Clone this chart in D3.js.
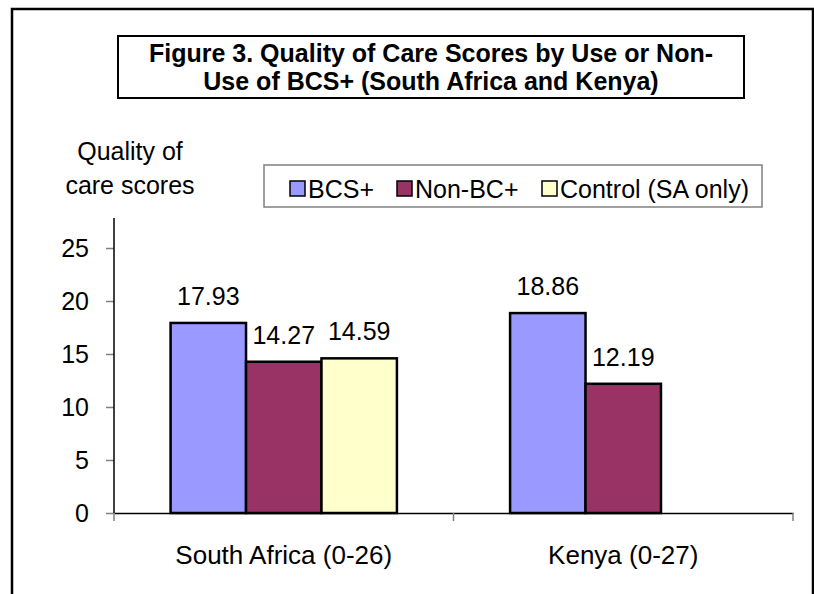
<!DOCTYPE html>
<html>
<head>
<meta charset="utf-8">
<script src="https://cdn.jsdelivr.net/npm/d3@7"></script>
<style>
  body { margin: 0; background: #fff; }
  svg { display: block; font-family: "Liberation Sans", Arial, sans-serif; }
</style>
</head>
<body>
<svg id="chart" width="814" height="594"></svg>
<script>
const categories = ["South Africa (0-26)", "Kenya (0-27)"];
const seriesNames = ["BCS+", "Non-BC+", "Control (SA only)"];
const seriesColors = ["#9999FF", "#993366", "#FFFFCC"];
// values per category, in series order (null = no bar)
const saValues = [17.93, 14.27, 14.59];
const kenyaValues = [18.86, 12.19, null];
const yTicks = [0, 5, 10, 15, 20, 25];

const svg = d3.select("#chart");

// outer frame
svg.append("rect").attr("x", 12).attr("y", 9).attr("width", 801).attr("height", 620)
    .attr("fill", "none").attr("stroke", "#000").attr("stroke-width", 2.5);

// title box
const title = svg.append("g");
title.append("rect").attr("x", 118).attr("y", 36).attr("width", 626).attr("height", 62)
    .attr("fill", "#fff").attr("stroke", "#000").attr("stroke-width", 2);
title.append("text").attr("x", 431).attr("y", 62).attr("text-anchor", "middle")
    .attr("font-size", 25).attr("font-weight", "bold").text("Figure 3. Quality of Care Scores by Use or Non-");
title.append("text").attr("x", 431).attr("y", 90).attr("text-anchor", "middle")
    .attr("font-size", 25).attr("font-weight", "bold").text("Use of BCS+ (South Africa and Kenya)");

// axis title
svg.append("text").attr("x", 130).attr("y", 160).attr("text-anchor", "middle").attr("font-size", 25).text("Quality of");
svg.append("text").attr("x", 130).attr("y", 194).attr("text-anchor", "middle").attr("font-size", 25).text("care scores");

// scales (Excel default gap width 150%)
const x0 = d3.scaleBand().domain(categories).range([114, 793]).paddingInner(0).paddingOuter(0);
const x1 = d3.scaleBand().domain(seriesNames).range([0, x0.bandwidth()]).paddingOuter(0.75).paddingInner(0);
const y = d3.scaleLinear().domain([0, 25]).range([513, 248]);

// y axis
const yAxis = svg.append("g").attr("transform", "translate(114,0)")
    .call(d3.axisLeft(y).tickValues(yTicks).tickSize(8).tickPadding(17));
yAxis.select(".domain").remove();
yAxis.selectAll(".tick line").attr("stroke", "#808080").attr("stroke-width", 1.5);
yAxis.selectAll(".tick text").attr("font-size", 25).attr("fill", "#000")
    .attr("font-family", "'Liberation Sans', Arial, sans-serif");
svg.append("line").attr("x1", 114).attr("x2", 114).attr("y1", 218).attr("y2", 513)
    .attr("stroke", "#000").attr("stroke-width", 1.5);

// x axis
const xAxis = svg.append("g").attr("transform", "translate(0,513)")
    .call(d3.axisBottom(x0).tickValues([]).tickSizeOuter(0));
xAxis.select(".domain").attr("stroke", "#000").attr("stroke-width", 1.5);
const xTickPos = [x0.range()[0], ...categories.map(c => x0(c) + x0.bandwidth())];
svg.selectAll(".xtick").data(xTickPos).join("line")
    .attr("x1", d => d).attr("x2", d => d).attr("y1", 513).attr("y2", 521)
    .attr("stroke", "#808080").attr("stroke-width", 1.5);
svg.selectAll(".xlabel").data(categories).join("text")
    .attr("x", d => x0(d) + x0.bandwidth() / 2).attr("y", 564)
    .attr("text-anchor", "middle").attr("font-size", 26).text(d => d);

// bars
const rows = [saValues, kenyaValues];
categories.forEach((cat, ci) => {
    const g = svg.append("g").attr("transform", `translate(${x0(cat)},0)`);
    const data = rows[ci].map((v, i) => ({ name: seriesNames[i], value: v, color: seriesColors[i] }))
        .filter(d => d.value !== null);
    g.selectAll("rect").data(data).join("rect")
        .attr("x", d => x1(d.name)).attr("y", d => y(d.value))
        .attr("width", x1.bandwidth()).attr("height", d => y(0) - y(d.value))
        .attr("fill", d => d.color).attr("stroke", "#000").attr("stroke-width", 2.5);
    g.selectAll("text").data(data).join("text")
        .attr("x", d => x1(d.name) + x1.bandwidth() / 2).attr("y", d => y(d.value) - 18)
        .attr("text-anchor", "middle").attr("font-size", 25).text(d => d.value.toFixed(2));
});

// legend
const legend = svg.append("g");
legend.append("rect").attr("x", 264).attr("y", 165).attr("width", 498).attr("height", 42)
    .attr("fill", "#fff").attr("stroke", "#808080").attr("stroke-width", 1.5);
const legendX = [290, 397, 542];
seriesNames.forEach((name, i) => {
    legend.append("rect").attr("x", legendX[i]).attr("y", 181).attr("width", 15).attr("height", 15)
        .attr("fill", seriesColors[i]).attr("stroke", "#000").attr("stroke-width", 1.5);
    legend.append("text").attr("x", legendX[i] + 18).attr("y", 198).attr("font-size", 25).text(name);
});
</script>
</body>
</html>
